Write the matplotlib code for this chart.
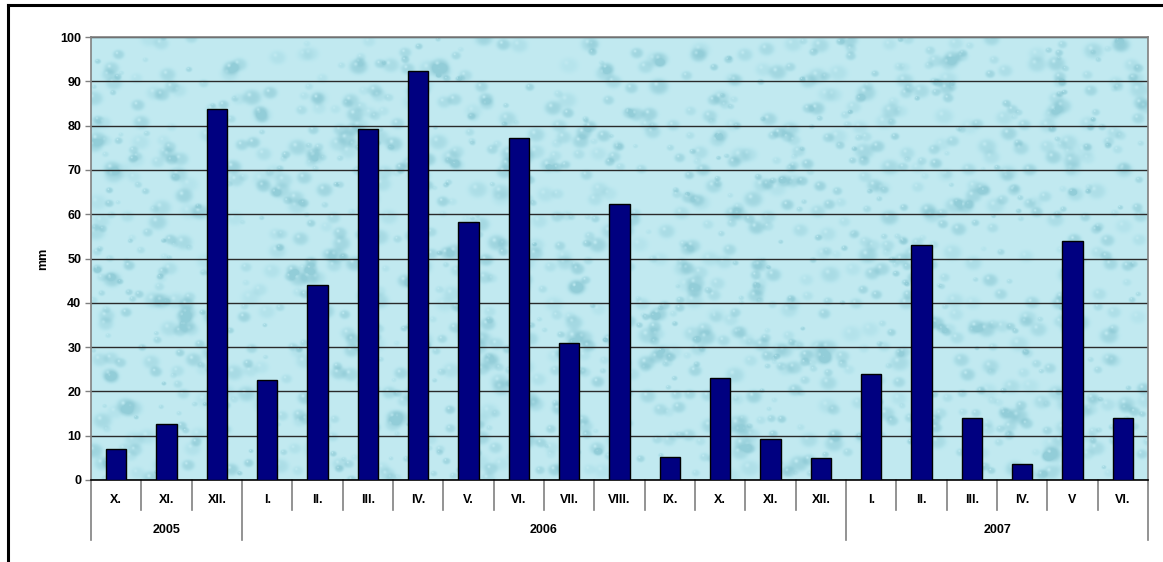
import numpy as np
import matplotlib
matplotlib.use('Agg')
import matplotlib.pyplot as plt
from matplotlib.lines import Line2D
from matplotlib.colors import LinearSegmentedColormap

plt.rcParams['font.family'] = ['Liberation Sans', 'DejaVu Sans']

# monthly precipitation, Oct 2005 - Jun 2007
months = ['X.', 'XI.', 'XII.',
          'I.', 'II.', 'III.', 'IV.', 'V.', 'VI.', 'VII.', 'VIII.', 'IX.', 'X.', 'XI.', 'XII.',
          'I.', 'II.', 'III.', 'IV.', 'V', 'VI.']
precip = [7.0, 12.7, 83.7,
          22.6, 44.0, 79.2, 92.4, 58.2, 77.1, 30.9, 62.4, 5.3, 23.0, 9.3, 5.0,
          24.0, 53.1, 14.1, 3.6, 54.0, 14.1]
years = ['2005', '2006', '2007']
months_per_year = [3, 12, 6]

W, H = 1163, 562
fig = plt.figure(figsize=(W / 100, H / 100), dpi=100)
fig.patch.set_facecolor('white')

# frame of the chart area (only top and left edges show)
fig.add_artist(Line2D([8 / W, 1], [1 - 5 / H, 1 - 5 / H], color='black', lw=2.2))
fig.add_artist(Line2D([8 / W, 8 / W], [0, 1 - 5 / H], color='black', lw=2.2))

left, right, top, bottom = 91, 1148, 37, 480
ax = fig.add_axes([left / W, 1 - bottom / H, (right - left) / W, (bottom - top) / H])

# water-drop style background
ny, nx = 443, 1057
yy, xx = np.mgrid[0:ny, 0:nx]
field = np.zeros((ny, nx))
rng = np.random.default_rng(7)
for _ in range(1600):
    cx, cy = rng.uniform(0, nx), rng.uniform(0, ny)
    r = rng.uniform(2, 8)
    a = rng.uniform(0.2, 0.7)
    x0, x1 = int(max(cx - 3 * r, 0)), int(min(cx + 3 * r, nx))
    y0, y1 = int(max(cy - 3 * r, 0)), int(min(cy + 3 * r, ny))
    sx, sy = xx[y0:y1, x0:x1], yy[y0:y1, x0:x1]
    d2 = ((sx - cx) / (r * 1.2)) ** 2 + ((sy - cy) / r) ** 2
    field[y0:y1, x0:x1] -= a * np.exp(-d2 ** 2)
    hl = ((sx - cx + r * 0.35) ** 2 + (sy - cy + r * 0.35) ** 2) / (0.06 * r * r)
    field[y0:y1, x0:x1] += 0.9 * a * np.exp(-hl)
field = np.clip(field, -0.9, 0.6)
cmap = LinearSegmentedColormap.from_list('water', ['#93cdd8', '#b9e6ee', '#e2f7fa'])
ax.imshow(field, cmap=cmap, vmin=-0.9, vmax=0.6, extent=(-0.5, 20.5, 0, 100),
          aspect='auto', zorder=0, interpolation='bilinear')

x = np.arange(len(precip))
ax.bar(x, precip, width=0.4, color='#000080', edgecolor='black', linewidth=1.0, zorder=3)

ax.set_xlim(-0.5, len(precip) - 0.5)
ax.set_ylim(0, 100)
ax.set_yticks(np.arange(0, 101, 10))
ax.yaxis.grid(True, color='#2a2a2a', linewidth=1.0, zorder=1)
ax.set_axisbelow(True)
ax.set_xticks([])
ax.tick_params(axis='y', length=4, width=1, color='#808080', pad=3, labelsize=9)
for lbl in ax.get_yticklabels():
    lbl.set_fontweight('bold')

for side in ['left', 'top', 'right']:
    ax.spines[side].set_color('#808080')
    ax.spines[side].set_linewidth(1.2)
ax.spines['bottom'].set_color('black')
ax.spines['bottom'].set_linewidth(1.2)

ax.set_ylabel('mm', fontsize=9, fontweight='bold', labelpad=8)

# two-level category axis: months and years
trans = ax.get_xaxis_transform()
ph = bottom - top
for i, m in enumerate(months):
    ax.text(i, -20 / ph, m, transform=trans, ha='center', va='center',
            fontsize=9, fontweight='bold')

bounds = np.cumsum([0] + months_per_year)
for i in range(len(precip) + 1):
    depth = 60 if i in bounds else 30
    ax.add_line(Line2D([i - 0.5, i - 0.5], [0, -depth / ph], transform=trans,
                       color='#808080', lw=1.2, clip_on=False))
for j, yr in enumerate(years):
    cx = (bounds[j] + bounds[j + 1] - 1) / 2
    ax.text(cx, -50 / ph, yr, transform=trans, ha='center', va='center',
            fontsize=9, fontweight='bold')

fig.savefig('out.png', dpi=100)
